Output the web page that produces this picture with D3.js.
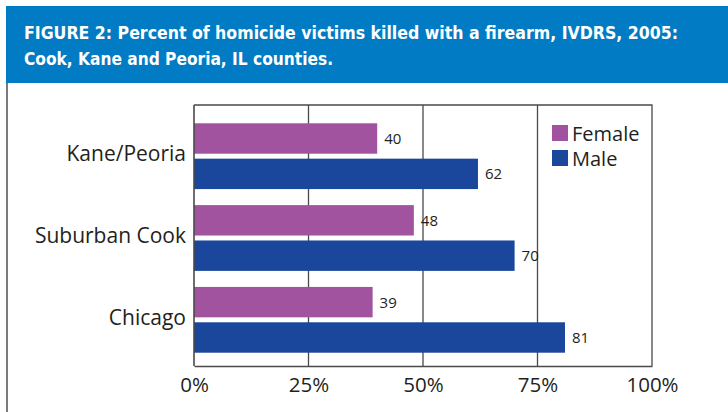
<!DOCTYPE html>
<html>
<head>
<meta charset="utf-8">
<script src="https://cdn.jsdelivr.net/npm/d3@7/dist/d3.min.js"></script>
<style>
html,body{margin:0;padding:0;background:#fff;}
svg{display:block;}
</style>
</head>
<body>
<svg id="chart" width="728" height="412"></svg>
<script>
const categories = ["Kane/Peoria", "Suburban Cook", "Chicago"];
const seriesNames = ["Female", "Male"];
const femaleValues = [40, 48, 39];
const maleValues = [62, 70, 81];
const tickValues = [0, 25, 50, 75, 100];
const tickLabels = ["0%", "25%", "50%", "75%", "100%"];
const titleLines = ["FIGURE 2: Percent of homicide victims killed with a firearm, IVDRS, 2005:",
                    "Cook, Kane and Peoria, IL counties."];

const colors = {Female: "#A1539F", Male: "#1A479B"};
const textColor = "#231F20";
const lineColor = "#4a4a4a";
const bodyFont = "'Open Sans', 'Noto Sans', sans-serif";

const svg = d3.select("#chart");

// header
svg.append("rect").attr("x", 6).attr("y", 6).attr("width", 722).attr("height", 77).attr("fill", "#017BC3");
svg.append("line").attr("x1", 7).attr("x2", 7).attr("y1", 83).attr("y2", 412)
  .attr("stroke", "#7a7a7a").attr("stroke-width", 2);

const titleTargets = [654, 309];
titleLines.forEach((t, i) => {
  const tx = svg.append("text").attr("x", 24).attr("y", 39 + i * 26)
    .attr("fill", "#fff").attr("font-family", "'DejaVu Sans Condensed','Liberation Sans Narrow',sans-serif")
    .attr("font-stretch", "condensed").attr("font-weight", "bold").attr("font-size", 18.5).text(t);
  const w = tx.node().getComputedTextLength();
  if (Math.abs(w - titleTargets[i]) > 4) tx.attr("textLength", titleTargets[i]).attr("lengthAdjust", "spacingAndGlyphs");
});

// plot
const x0 = 194, x1 = 652, yTop = 105, yBot = 366;
const x = d3.scaleLinear().domain([0, 100]).range([x0, x1]);
const y = d3.scaleBand().domain(categories).range([123.3, 352.7]).paddingInner(0.196).paddingOuter(0);
const ySub = d3.scaleBand().domain(seriesNames).range([0, y.bandwidth()]).paddingInner(0.14);

const plot = svg.append("g");

// gridlines
plot.selectAll("line.grid").data(tickValues.slice(1, -1)).join("line")
  .attr("class", "grid")
  .attr("x1", d => x(d)).attr("x2", d => x(d)).attr("y1", yTop).attr("y2", yBot)
  .attr("stroke", lineColor).attr("stroke-width", 1.3);

// frame (top, right)
plot.append("path").attr("d", `M${x0},${yTop}H${x1}V${yBot}`).attr("fill", "none")
  .attr("stroke", lineColor).attr("stroke-width", 1.3);

const data = categories.map((c, i) => ({cat: c, values: [
  {s: "Female", v: femaleValues[i]}, {s: "Male", v: maleValues[i]}]}));

const groups = plot.selectAll("g.grp").data(data).join("g").attr("class", "grp")
  .attr("transform", d => `translate(0,${y(d.cat)})`);

groups.selectAll("rect").data(d => d.values).join("rect")
  .attr("x", x(0)).attr("y", d => ySub(d.s))
  .attr("width", d => x(d.v) - x(0)).attr("height", ySub.bandwidth())
  .attr("fill", d => colors[d.s]);

groups.selectAll("text.val").data(d => d.values).join("text")
  .attr("class", "val")
  .attr("x", d => x(d.v) + 7).attr("y", d => ySub(d.s) + ySub.bandwidth() / 2)
  .attr("dy", "0.36em").attr("font-family", bodyFont).attr("font-size", 15)
  .attr("fill", textColor).text(d => d.v);

// left axis line
plot.append("line").attr("x1", x0).attr("x2", x0).attr("y1", yTop).attr("y2", yBot)
  .attr("stroke", lineColor).attr("stroke-width", 1.6);

// y axis (category labels)
const yAxis = d3.axisLeft(y).tickSize(0).tickPadding(8);
const yg = svg.append("g").attr("transform", `translate(${x0},0)`).call(yAxis);
yg.select(".domain").remove();
yg.selectAll("text").attr("font-family", bodyFont).attr("font-size", 21)
  .attr("fill", textColor).attr("dy", "0.24em");

// x axis
const xAxis = d3.axisBottom(x).tickValues(tickValues).tickFormat((d, i) => tickLabels[i]).tickSize(0).tickPadding(11);
const xg = svg.append("g").attr("transform", `translate(0,${yBot})`).call(xAxis);
xg.select(".domain").attr("stroke", lineColor).attr("stroke-width", 1.6);
xg.selectAll("text").attr("font-family", bodyFont).attr("font-size", 20.5).attr("fill", textColor);

// legend
const legend = svg.append("g").attr("transform", "translate(552,125)");
const li = legend.selectAll("g").data(seriesNames).join("g")
  .attr("transform", (d, i) => `translate(0,${i * 25})`);
li.append("rect").attr("width", 16).attr("height", 16).attr("fill", d => colors[d]);
li.append("text").attr("x", 20).attr("y", 16).attr("font-family", bodyFont)
  .attr("font-size", 20).attr("fill", textColor).text(d => d);
</script>
</body>
</html>
